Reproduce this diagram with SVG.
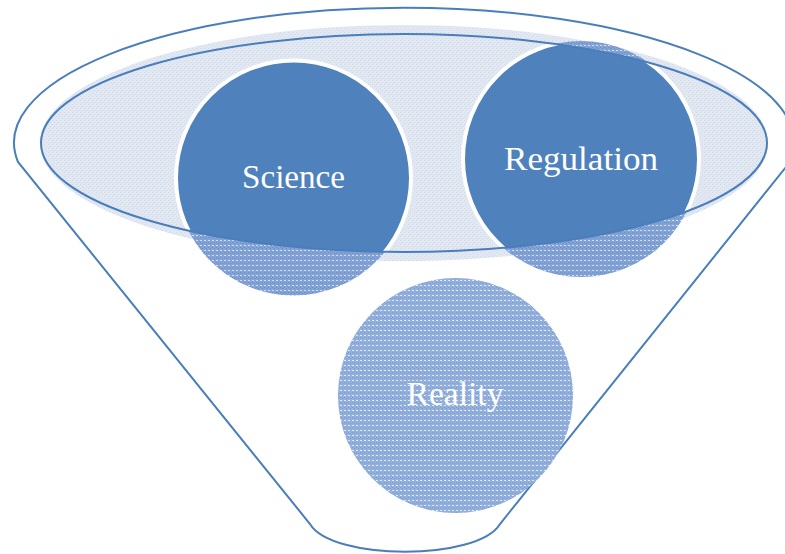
<svg xmlns="http://www.w3.org/2000/svg" width="785" height="554" viewBox="0 0 785 554">
  <style>
    .outline { fill: none; stroke: #4a7ebb; stroke-width: 2; }
    .label { font-family: "Liberation Serif", "Times New Roman", serif; font-size: 33px; fill: #ffffff; text-anchor: middle; }
    .solid { fill: #4f81bd; stroke: #ffffff; stroke-width: 4; }
  </style>
  <defs>
    <pattern id="dither" width="4" height="5" patternUnits="userSpaceOnUse">
      <rect width="4" height="5" fill="#93afdc"/>
      <rect x="0" y="0" width="2" height="1" fill="#ffffff" opacity="0.7"/>
      <rect x="0" y="2" width="1" height="1" fill="#789bd0"/>
      <rect x="2" y="3" width="1" height="1" fill="#789bd0"/>
    </pattern>
    <pattern id="ditherDark" width="4" height="5" patternUnits="userSpaceOnUse">
      <rect width="4" height="5" fill="#84a3d4"/>
      <rect x="0" y="0" width="2" height="1" fill="#ffffff" opacity="0.6"/>
      <rect x="0" y="2" width="1" height="1" fill="#6690c8"/>
      <rect x="2" y="3" width="1" height="1" fill="#6690c8"/>
    </pattern>
    <pattern id="lightDither" width="4" height="4" patternUnits="userSpaceOnUse">
      <rect width="4" height="4" fill="#e2e8f2"/>
      <rect x="0" y="0" width="1" height="1" fill="#cfd9ea"/>
      <rect x="2" y="2" width="1" height="1" fill="#cfd9ea"/>
    </pattern>
    <clipPath id="inner">
      <ellipse cx="404" cy="143" rx="363" ry="109"/>
    </clipPath>
  </defs>

  <g id="funnel">
    <path class="outline" d="M 18,162 A 390 135 0 1 1 790,162 L 500,524 C 478,561 332,561 310,524 Z"/>
  </g>

  <g id="container">
    <ellipse cx="404" cy="143" rx="364" ry="118" fill="url(#lightDither)"/>
  </g>

  <g id="connectors"/>

  <g id="science">
    <circle cx="293.5" cy="178" r="117.5" fill="url(#ditherDark)"/>
    <circle cx="293.5" cy="178" r="117.5" class="solid" clip-path="url(#inner)"/>
    <text class="label" x="293.5" y="188" textLength="103" lengthAdjust="spacingAndGlyphs">Science</text>
  </g>

  <g id="regulation">
    <circle cx="581" cy="159" r="118" fill="url(#ditherDark)"/>
    <circle cx="581" cy="159" r="118" class="solid" clip-path="url(#inner)"/>
    <text class="label" x="581" y="170" textLength="154" lengthAdjust="spacingAndGlyphs">Regulation</text>
  </g>

  <g id="inner-rim">
    <ellipse class="outline" cx="404" cy="143" rx="363" ry="109"/>
  </g>

  <g id="reality">
    <circle cx="455.5" cy="395.5" r="117.5" fill="url(#dither)"/>
    <text class="label" x="455" y="405" textLength="97" lengthAdjust="spacingAndGlyphs">Reality</text>
  </g>
</svg>
